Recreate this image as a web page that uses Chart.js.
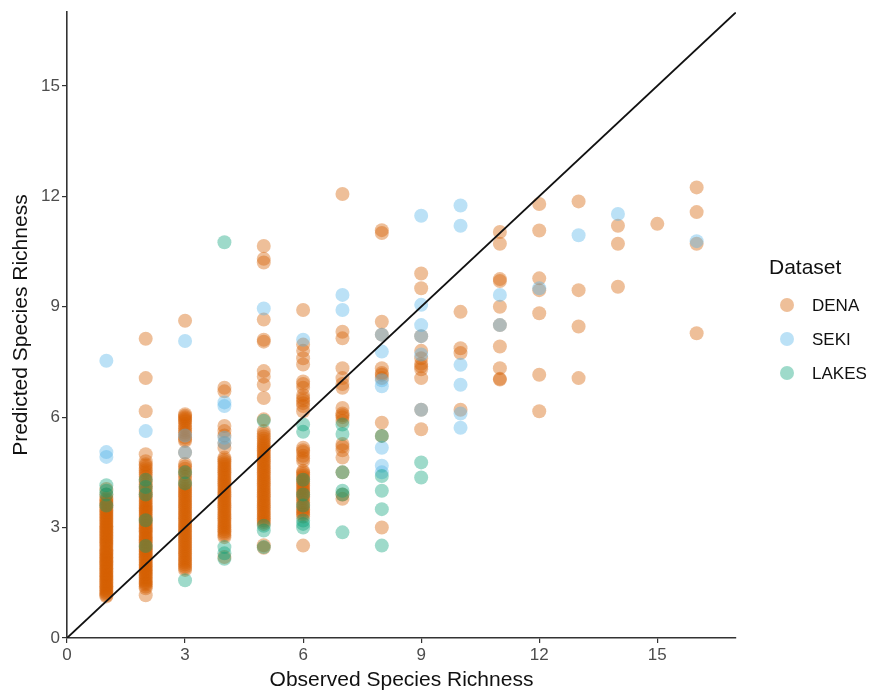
<!DOCTYPE html>
<html>
<head>
<meta charset="utf-8">
<script src="https://cdn.jsdelivr.net/npm/chart.js@4/dist/chart.umd.min.js"></script>
<style>
  html, body { margin: 0; padding: 0; background: #fff; }
  #wrap { width: 873px; height: 698px; }
</style>
</head>
<body>
<div id="wrap"><canvas id="richnessChart" width="873" height="698"></canvas></div>
<script>
// observed vs predicted species richness, [observed, predicted]
const dena = [
  [1,1.13],[1,1.2],[1,1.28],[1,1.35],[1,1.42],[1,1.5],[1,1.58],[1,1.66],[1,1.72],[1,1.8],[1,1.88],[1,1.95],
  [1,2.03],[1,2.1],[1,2.18],[1,2.25],[1,2.33],[1,2.4],[1,2.5],[1,2.58],[1,2.65],[1,2.74],[1,2.82],[1,2.9],
  [1,2.98],[1,3.05],[1,3.14],[1,3.22],[1,3.3],[1,3.38],[1,3.46],[1,3.55],[1,3.64],[1,3.72],[1,3.8],[1,3.9],[1,4.05],
  [1,1.16],[1,1.24],[1,1.31],[1,1.39],[1,1.46],[1,1.54],[1,1.62],[1,1.69],[1,1.76],[1,1.84],[1,1.91],[1,1.99],
  [1,2.06],[1,2.14],[1,2.21],[1,2.29],[1,2.36],[1,2.45],[1,2.54],[1,2.62],[1,2.7],[1,2.78],[1,2.86],[1,2.94],
  [1,3.02],[1,3.1],[1,3.18],[1,3.26],[1,3.34],[1,3.42],[1,3.5],[1,3.6],[1,3.68],[1,3.76],
  [2,1.16],[2,1.35],[2,1.45],[2,1.52],[2,1.6],[2,1.7],[2,1.78],[2,1.85],[2,1.93],[2,2.0],[2,2.1],[2,2.18],
  [2,2.26],[2,2.35],[2,2.42],[2,2.5],[2,2.6],[2,2.68],[2,2.76],[2,2.85],[2,2.93],[2,3.0],[2,3.1],[2,3.18],
  [2,3.26],[2,3.35],[2,3.45],[2,3.52],[2,3.6],[2,3.7],[2,3.8],[2,3.9],[2,4.0],[2,4.12],[2,4.25],[2,4.38],
  [2,4.5],[2,4.62],[2,4.72],[2,4.8],[2,4.99],[2,6.16],[2,7.06],[2,8.13],
  [2,1.4],[2,1.49],[2,1.56],[2,1.65],[2,1.74],[2,1.82],[2,1.89],[2,1.97],[2,2.05],[2,2.14],[2,2.22],[2,2.3],
  [2,2.39],[2,2.46],[2,2.55],[2,2.64],[2,2.72],[2,2.8],[2,2.89],[2,2.97],[2,3.05],[2,3.14],[2,3.22],[2,3.3],
  [2,3.4],[2,3.48],[2,3.56],[2,3.65],[2,3.75],[2,3.85],[2,3.95],[2,4.06],[2,4.18],[2,4.3],[2,4.44],[2,4.56],[2,4.68],
  [3,1.85],[3,1.95],[3,2.05],[3,2.15],[3,2.25],[3,2.35],[3,2.45],[3,2.55],[3,2.65],[3,2.75],[3,2.85],[3,2.95],
  [3,3.05],[3,3.15],[3,3.25],[3,3.35],[3,3.45],[3,3.55],[3,3.65],[3,3.75],[3,3.85],[3,3.95],[3,4.05],[3,4.15],
  [3,4.3],[3,4.45],[3,4.6],[3,4.73],[3,5.04],[3,5.35],[3,5.45],[3,5.58],[3,5.7],[3,5.82],[3,5.92],[3,6.0],[3,6.08],[3,8.62],
  [3,1.9],[3,2.0],[3,2.1],[3,2.2],[3,2.3],[3,2.4],[3,2.5],[3,2.6],[3,2.7],[3,2.8],[3,2.9],[3,3.0],[3,3.1],[3,3.2],
  [3,3.3],[3,3.4],[3,3.5],[3,3.6],[3,3.7],[3,3.8],[3,3.9],[3,4.0],[3,4.1],[3,4.22],[3,4.38],[3,4.52],[3,4.66],
  [3,5.4],[3,5.52],[3,5.64],[3,5.76],[3,5.88],[3,5.96],[3,6.04],
  [4,2.2],[4,2.74],[4,2.85],[4,2.95],[4,3.05],[4,3.15],[4,3.25],[4,3.35],[4,3.45],[4,3.55],[4,3.65],[4,3.75],
  [4,3.85],[4,3.95],[4,4.05],[4,4.15],[4,4.25],[4,4.35],[4,4.45],[4,4.55],[4,4.65],[4,4.75],[4,4.85],[4,4.9],
  [4,5.17],[4,5.3],[4,5.5],[4,5.62],[4,5.76],[4,6.7],[4,6.8],
  [4,2.8],[4,2.9],[4,3.0],[4,3.1],[4,3.2],[4,3.3],[4,3.4],[4,3.5],[4,3.6],[4,3.7],[4,3.8],[4,3.9],[4,4.0],
  [4,4.1],[4,4.2],[4,4.3],[4,4.4],[4,4.5],[4,4.6],[4,4.7],[4,4.8],
  [5,2.45],[5,2.52],[5,3.1],[5,3.2],[5,3.3],[5,3.4],[5,3.5],[5,3.6],[5,3.7],[5,3.8],[5,3.9],[5,4.0],[5,4.1],
  [5,4.2],[5,4.3],[5,4.4],[5,4.5],[5,4.6],[5,4.7],[5,4.8],[5,4.9],[5,5.0],[5,5.1],[5,5.2],[5,5.3],[5,5.42],
  [5,5.55],[5,5.62],[5,5.94],[5,6.52],[5,6.88],[5,7.1],[5,7.25],[5,8.05],[5,8.1],[5,8.65],[5,10.2],[5,10.3],[5,10.65],
  [5,3.15],[5,3.25],[5,3.35],[5,3.45],[5,3.55],[5,3.65],[5,3.75],[5,3.85],[5,3.95],[5,4.05],[5,4.15],[5,4.25],
  [5,4.35],[5,4.45],[5,4.55],[5,4.65],[5,4.75],[5,4.85],[5,4.95],[5,5.05],[5,5.15],[5,5.25],[5,5.36],[5,5.48],
  [6,2.51],[6,3.3],[6,3.4],[6,3.5],[6,3.62],[6,3.75],[6,3.85],[6,3.95],[6,4.05],[6,4.15],[6,4.25],[6,4.35],
  [6,4.45],[6,4.54],[6,4.81],[6,4.95],[6,5.05],[6,5.17],[6,6.16],[6,6.3],[6,6.45],[6,6.6],[6,6.8],[6,6.97],
  [6,7.43],[6,7.6],[6,7.8],[6,7.97],[6,8.91],
  [6,3.36],[6,3.46],[6,3.56],[6,3.68],[6,3.8],[6,3.9],[6,4.0],[6,4.1],[6,4.2],[6,4.3],[6,4.4],[6,4.5],
  [6,4.88],[6,5.1],[6,6.38],[6,6.52],[6,6.9],
  [7,3.78],[7,3.9],[7,4.5],[7,4.9],[7,5.1],[7,5.27],[7,5.9],[7,6.0],[7,6.1],[7,6.25],[7,6.8],[7,6.9],
  [7,7.06],[7,7.33],[7,8.14],[7,8.32],[7,12.06],[7,5.2],[7,6.05],
  [8,3.0],[8,5.49],[8,5.85],[8,7.06],[8,7.2],[8,7.33],[8,8.24],[8,8.59],[8,11.0],[8,11.08],[8,7.15],
  [9,5.67],[9,6.2],[9,7.06],[9,7.3],[9,7.45],[9,7.6],[9,7.8],[9,8.2],[9,9.5],[9,9.9],[9,7.38],
  [10,6.2],[10,7.74],[10,7.87],[10,8.86],
  [11,7.02],[11,7.04],[11,7.33],[11,7.92],[11,8.5],[11,9.0],[11,9.7],[11,9.75],[11,10.71],[11,11.03],
  [12,6.16],[12,7.15],[12,8.82],[12,9.45],[12,9.77],[12,11.07],[12,11.79],
  [13,7.06],[13,8.46],[13,9.45],[13,11.86],
  [14,9.54],[14,10.71],[14,11.2],
  [15,11.25],
  [16,8.28],[16,10.71],[16,11.57],[16,12.24]
];
const seki = [
  [1,4.92],[1,5.05],[1,7.53],
  [2,5.62],
  [3,5.04],[3,5.5],[3,8.07],
  [4,5.3],[4,5.44],[4,6.3],[4,6.4],
  [5,8.95],
  [6,8.1],
  [7,8.91],[7,9.32],
  [8,4.5],[8,4.68],[8,5.17],[8,6.84],[8,7.0],[8,7.78],[8,8.24],
  [9,6.2],[9,7.7],[9,8.2],[9,8.5],[9,9.05],[9,11.47],
  [10,5.71],[10,6.1],[10,6.88],[10,7.42],[10,11.2],[10,11.75],
  [11,8.5],[11,9.32],
  [12,9.5],
  [13,10.94],
  [14,11.52],
  [16,10.78]
];
const lakes = [
  [1,3.6],[1,3.9],[1,4.0],[1,4.15],
  [2,2.5],[2,3.2],[2,3.9],[2,4.1],[2,4.3],
  [3,1.57],[3,4.2],[3,4.5],
  [4,2.15],[4,2.3],[4,2.47],[4,10.75],
  [5,2.47],[5,2.92],[5,3.05],[5,5.9],
  [6,3.0],[6,3.1],[6,3.19],[6,3.6],[6,3.9],[6,4.3],[6,5.6],[6,5.8],
  [7,2.87],[7,3.9],[7,4.0],[7,4.5],[7,5.54],[7,5.8],
  [8,2.51],[8,3.5],[8,4.0],[8,4.4],[8,5.49],
  [9,4.36],[9,4.77]
];
const datasetNames = ['DENA', 'SEKI', 'LAKES'];
const datasetColors = ['rgba(213,94,0,0.4)', 'rgba(86,180,233,0.4)', 'rgba(0,158,115,0.38)'];
const axisTicks = [0, 3, 6, 9, 12, 15];
const axisMax = 17;

const toPoints = pairs => pairs.map(p => ({ x: p[0], y: p[1] }));

Chart.defaults.font.family = '"Liberation Sans", Arial, sans-serif';

// draws the ggplot-style legend on the right
const sideLegend = {
  id: 'sideLegend',
  afterDraw(chart) {
    const ctx = chart.ctx;
    ctx.save();
    ctx.textBaseline = 'middle';
    ctx.textAlign = 'left';
    ctx.fillStyle = '#111';
    ctx.font = '21px "Liberation Sans", Arial, sans-serif';
    ctx.fillText('Dataset', 769, 268);
    ctx.font = '17px "Liberation Sans", Arial, sans-serif';
    let row = 0;
    chart.data.datasets.forEach(ds => {
      if (!ds.inLegend) return;
      const y = 305 + row * 34;
      ctx.beginPath();
      ctx.arc(787, y, 7, 0, Math.PI * 2);
      ctx.fillStyle = ds.backgroundColor;
      ctx.fill();
      ctx.fillStyle = '#111';
      ctx.fillText(ds.label, 812, y + 1);
      row++;
    });
    ctx.restore();
  }
};

const axisOpts = (titleText, isX) => ({
  type: 'linear',
  min: 0,
  max: axisMax,
  afterBuildTicks: scale => { scale.ticks = axisTicks.map(v => ({ value: v })); },
  afterFit: scale => { if (isX) scale.height = 60; else scale.width = 67; },
  ticks: {
    color: '#4d4d4d',
    font: { size: 17 },
    padding: 2
  },
  grid: {
    display: true,
    drawOnChartArea: false,
    drawTicks: true,
    tickLength: 5,
    color: '#333',
    lineWidth: 1.2
  },
  border: { display: true, color: '#333', width: 1.6 },
  title: {
    display: true,
    text: titleText,
    color: '#111',
    font: { size: 21 },
    padding: isX ? { top: 0, bottom: 5 } : { top: 9, bottom: 0 }
  }
});

new Chart(document.getElementById('richnessChart'), {
  type: 'scatter',
  data: {
    datasets: [
      {
        type: 'line',
        label: 'one-to-one',
        data: [{ x: 0, y: 0 }, { x: axisMax, y: axisMax }],
        borderColor: '#111',
        borderWidth: 1.8,
        pointRadius: 0,
        order: -1,
        inLegend: false
      },
      // higher order is painted first, so DENA goes down first and LAKES ends on top
      ...[dena, seki, lakes].map((pairs, i) => ({
        label: datasetNames[i],
        data: toPoints(pairs),
        backgroundColor: datasetColors[i],
        borderWidth: 0,
        pointRadius: 7,
        order: 3 - i,
        inLegend: true
      }))
    ]
  },
  options: {
    responsive: false,
    animation: false,
    layout: { padding: { top: 8, right: 137, left: 0, bottom: 0 } },
    plugins: {
      legend: { display: false },
      tooltip: { enabled: false }
    },
    scales: {
      x: axisOpts('Observed Species Richness', true),
      y: axisOpts('Predicted Species Richness', false)
    }
  },
  plugins: [sideLegend]
});
</script>
</body>
</html>
